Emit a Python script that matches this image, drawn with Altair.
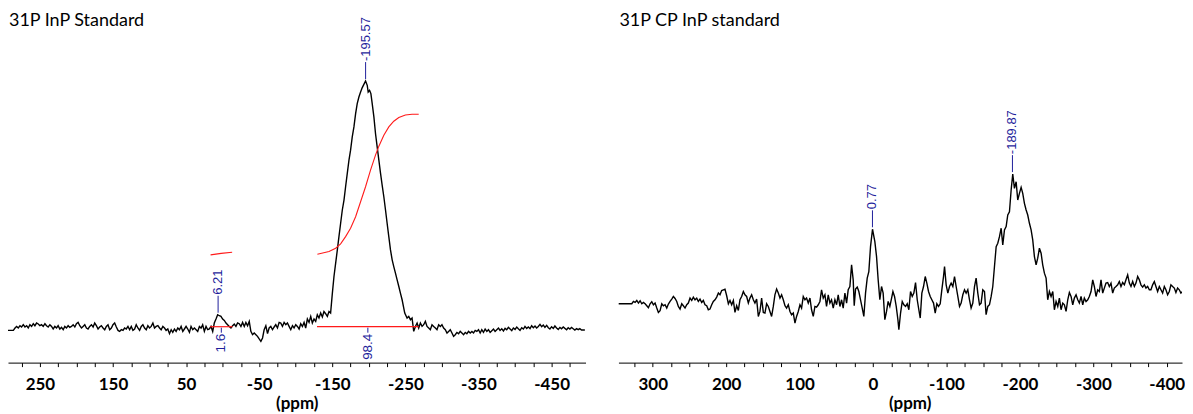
import altair as alt
import pandas as pd

LEFT_TITLE = "31P InP Standard"
RIGHT_TITLE = "31P CP InP standard"
AXIS_TITLE = "(ppm)"

# (ppm, intensity in arbitrary units)
left_spectrum = [
    (295.4, -3.7), (286.3, -3.7), (284.0, -1.3), (281.8, 0.3), (279.5, -1.3), (277.2, 1.0), (275.0, -0.3),
    (272.7, 2.0), (270.4, -0.3), (268.1, 1.0), (265.9, -1.3), (263.6, 2.0), (261.3, 0.3), (259.0, 3.0),
    (256.8, 1.0), (254.5, 3.7), (252.2, 2.7), (250.0, 1.0), (247.7, 2.0), (245.4, 0.3), (243.1, 3.0),
    (240.9, 1.0), (238.6, -0.3), (236.3, 2.0), (234.0, 0.3), (231.8, -2.3), (229.5, 0.3), (227.2, -1.3),
    (225.0, 1.0), (222.7, -2.3), (220.4, -0.7), (218.1, -3.0), (215.9, 0.3), (213.6, -1.3), (211.3, 1.0),
    (209.1, -0.7), (206.8, 0.3), (204.5, 2.0), (202.2, -0.3), (200.0, 3.0), (197.7, 4.3), (195.4, 1.0),
    (193.1, -1.3), (190.9, 0.3), (188.6, 2.0), (186.3, -1.3), (184.1, -2.3), (181.8, 0.3), (179.5, 2.0),
    (177.2, -0.3), (175.0, 3.7), (172.7, 1.0), (170.4, -2.3), (168.2, -0.3), (165.9, 1.0), (163.6, -1.3),
    (161.3, -3.0), (159.1, 0.3), (156.8, 2.0), (154.5, -3.0), (152.2, -1.3), (150.0, 2.0), (147.7, 3.7),
    (145.4, -0.3), (143.1, -3.7), (140.9, -4.7), (138.6, -3.0), (136.3, -3.7), (134.1, -1.3), (131.8, -2.3),
    (129.5, 0.3), (127.2, -3.0), (125.0, 0.3), (122.7, -3.7), (120.4, -2.3), (118.2, 2.0), (115.9, -1.3),
    (113.6, -3.7), (111.3, 0.3), (109.1, 2.0), (106.8, -1.3), (104.5, -3.0), (102.3, 1.0), (100.0, -1.3),
    (97.7, 0.3), (95.4, 3.7), (93.2, -1.3), (90.9, 0.3), (88.6, 1.0), (86.3, -1.3), (84.1, -3.0),
    (81.8, 0.3), (79.5, -1.3), (77.3, -3.7), (75.0, -2.3), (72.7, -7.0), (70.4, -3.0), (68.2, -5.7),
    (65.9, -2.3), (63.6, -4.7), (61.3, -1.3), (59.1, -3.0), (56.8, 0.3), (54.5, -4.7), (52.3, -2.3),
    (50.0, 0.3), (47.7, -2.3), (45.4, -5.7), (43.2, 0.3), (40.9, -3.0), (38.6, -1.3), (36.3, -3.0),
    (34.1, -4.7), (31.8, 0.3), (29.5, -1.3), (27.3, 2.0), (25.0, -4.7), (22.7, 0.3), (20.4, -3.0),
    (18.2, -2.3), (15.9, 0.3), (13.6, -4.7), (11.4, 3.7), (9.1, 7.7), (6.8, 12.0), (4.5, 11.0),
    (2.3, 10.3), (0.0, 7.7), (-2.3, 6.3), (-4.6, 3.7), (-6.8, 2.0), (-9.1, 0.3), (-11.4, -1.3),
    (-13.7, 1.0), (-15.9, 2.7), (-18.2, 0.3), (-20.5, 3.7), (-22.7, 3.0), (-25.0, 0.3), (-27.3, 4.3),
    (-29.6, 0.3), (-31.8, 4.3), (-34.1, 1.0), (-36.4, 5.3), (-38.6, -4.7), (-40.9, -8.0), (-43.2, -6.3),
    (-45.5, -8.0), (-47.7, -9.7), (-50.0, -12.3), (-52.3, -14.7), (-54.6, -11.3), (-56.8, -3.0), (-59.1, 1.0),
    (-61.4, -7.0), (-63.6, -1.3), (-65.9, 0.3), (-68.2, -3.0), (-70.5, -0.3), (-72.7, 2.0), (-75.0, -1.3),
    (-77.3, 4.3), (-79.5, 3.7), (-81.8, 0.3), (-84.1, 4.3), (-86.4, 2.0), (-88.6, 3.7), (-90.9, 0.3),
    (-93.2, -3.0), (-95.5, 1.0), (-97.7, -1.3), (-100.0, 2.0), (-102.3, 0.3), (-104.6, -2.3), (-106.8, 3.0),
    (-109.1, 0.3), (-111.4, 4.3), (-113.6, -1.3), (-115.9, 7.7), (-118.2, 4.3), (-120.5, 10.3), (-122.7, 3.7),
    (-125.0, 7.7), (-127.3, 5.3), (-129.5, 12.0), (-131.8, 8.7), (-134.1, 13.7), (-136.4, 9.7), (-138.6, 15.3),
    (-140.9, 13.0), (-143.2, 10.3), (-145.5, 15.3), (-147.7, 13.7),
    (-150.1, 33.7), (-152.3, 50.3), (-154.6, 63.7), (-156.9, 77.0), (-159.1, 90.3), (-161.4, 103.7),
    (-163.7, 117.0), (-166.0, 127.0), (-168.2, 140.3), (-170.5, 153.7), (-172.8, 167.0), (-175.0, 177.0),
    (-177.3, 190.3), (-179.6, 200.3), (-181.9, 213.7), (-184.1, 223.7), (-186.4, 230.3), (-188.7, 235.3),
    (-191.0, 239.7), (-193.2, 243.0), (-195.5, 246.3), (-197.8, 242.0), (-199.1, 235.3), (-201.0, 237.0),
    (-202.8, 233.7), (-204.6, 223.7), (-206.9, 210.3), (-209.1, 193.7), (-211.4, 180.3), (-213.7, 167.0),
    (-216.0, 153.7), (-218.2, 142.0), (-220.5, 130.3), (-222.8, 117.0), (-225.0, 103.7), (-227.3, 90.3),
    (-229.6, 77.0), (-231.9, 67.0), (-234.1, 60.3), (-236.4, 53.7), (-238.7, 47.0), (-241.0, 40.3),
    (-243.2, 33.7), (-245.5, 27.0), (-249.1, 13.7), (-252.3, 8.7), (-254.6, 10.3), (-256.9, 7.0),
    (-259.1, 8.7), (-261.4, -4.7), (-263.7, 0.3), (-266.0, 3.7), (-268.2, -1.3), (-270.5, 3.7),
    (-272.8, 0.3), (-275.0, 2.0), (-277.3, 5.3), (-279.6, 0.3), (-281.9, -1.3), (-284.1, -3.0),
    (-286.4, 2.0), (-288.7, 0.3), (-291.0, -1.3), (-293.2, -3.0), (-295.5, 2.0), (-297.8, 0.3),
    (-300.0, 2.0), (-302.3, -1.3), (-304.6, -3.0), (-306.9, -6.3), (-309.1, -4.7), (-311.4, -3.0),
    (-313.7, -6.3), (-315.9, -9.7), (-318.2, -8.0), (-320.5, -5.7), (-322.8, -7.0), (-325.0, -4.7),
    (-327.3, -6.3), (-329.6, -8.0), (-331.9, -5.7), (-334.1, -7.0), (-336.4, -4.7), (-338.7, -6.3),
    (-341.0, -4.7), (-343.2, -6.3), (-345.5, -3.7), (-347.7, -4.7), (-350.0, -3.0),
    (-352.3, -6.3), (-354.5, -3.0), (-356.8, -5.7), (-359.1, -2.3), (-361.4, -4.7), (-363.6, -3.0),
    (-365.9, -5.7), (-368.2, -4.0), (-370.5, -2.3), (-372.7, -4.7), (-375.0, -3.0), (-377.3, -1.3),
    (-379.5, -3.7), (-381.8, -2.0), (-384.1, -4.3), (-386.4, -1.7), (-388.6, -3.0), (-390.9, -0.7),
    (-393.2, -2.3), (-395.5, -4.0), (-397.7, -1.3), (-400.0, -2.7), (-402.3, -0.3), (-404.5, -2.0),
    (-406.8, -3.7), (-409.1, -1.0), (-411.4, -2.3), (-413.6, 0.3), (-415.9, -1.7), (-418.2, -0.3),
    (-420.5, -2.0), (-422.7, 1.0), (-425.0, -1.0), (-427.3, 0.7), (-429.5, -1.3), (-431.8, 0.3),
    (-434.1, 2.3), (-436.4, 0.0), (-438.6, 1.7), (-440.9, -0.7), (-443.2, 1.3), (-445.5, -1.0),
    (-447.7, -2.3), (-450.0, 0.0), (-452.3, -1.7), (-454.5, 0.7), (-456.8, -1.3), (-459.1, -2.7),
    (-461.4, -0.7), (-463.6, -2.0), (-465.9, -0.3), (-468.2, -1.7), (-470.5, -3.0), (-472.7, -1.0),
    (-475.0, -2.3), (-477.3, -0.7), (-479.5, -2.0), (-481.8, -3.3), (-484.1, -2.0), (-486.4, -3.0),
    (-488.6, -2.0), (-490.9, -3.3), (-493.2, -3.3), (-495.5, -3.3),
]

right_spectrum = [
    (346.7, 0.0), (328.5, 0.0), (326.3, 2.3), (324.0, 1.3), (321.7, 3.3), (319.5, 0.7), (317.2, 3.0),
    (314.9, 0.0), (312.7, 1.3), (310.4, 0.0), (308.1, -2.0), (305.9, -4.0), (303.6, 0.0), (301.3, 2.0),
    (299.1, -1.0), (296.8, 0.7), (294.5, -4.3), (292.3, -8.7), (290.0, -7.0), (287.7, 0.0), (285.5, -2.0),
    (283.2, -1.0), (280.9, -4.3), (278.7, -0.3), (276.4, 2.3), (274.1, 4.7), (271.9, 7.3), (269.6, 5.3),
    (267.3, 2.3), (265.1, -2.7), (262.8, -5.3), (260.5, 0.0), (258.3, -2.0), (256.0, -4.3), (253.7, -1.0),
    (251.5, 0.7), (249.2, 5.7), (246.9, 3.3), (244.7, 6.7), (242.4, 4.0), (240.1, 5.7), (237.9, 2.3),
    (235.6, 4.7), (233.3, 1.3), (231.1, 3.3), (228.8, -1.0), (226.5, -2.0), (224.3, -6.0), (222.0, -5.3),
    (219.7, -1.0), (217.5, 2.3), (215.2, 4.0), (212.9, 6.7), (210.6, 10.7), (208.4, 9.0), (206.1, 13.3),
    (203.8, 14.0), (201.6, 14.7), (199.3, 8.0), (197.0, 0.0), (194.8, 3.3), (192.5, -1.0), (190.2, 3.3),
    (188.0, -8.7), (185.7, -2.0), (183.4, -6.7), (181.2, 4.0), (178.9, 7.3), (176.6, 12.3), (174.4, 9.0),
    (172.1, 7.3), (169.8, 0.7), (167.6, 5.7), (165.3, 9.0), (163.0, 4.0), (160.8, 0.7), (158.5, 4.7),
    (156.2, -12.7), (154.0, -7.7), (151.7, 5.7), (149.4, -8.7), (147.2, -9.3), (144.9, 0.0), (142.6, -2.7),
    (140.4, -7.7), (138.1, -12.7), (135.8, -2.7), (133.6, 9.0), (131.3, 14.7), (129.0, 10.7), (126.7, 5.7),
    (124.5, 9.0), (122.2, 4.0), (119.9, -2.0), (117.7, -4.3), (115.4, -1.0), (113.1, -7.7), (110.9, -11.0),
    (108.6, -9.3), (106.3, -19.3), (104.1, -12.7), (101.8, -7.7), (99.5, -1.0), (97.3, -4.3), (95.0, 7.3),
    (92.7, 4.0), (90.5, 5.7), (88.2, 0.7), (85.9, 5.7), (83.7, -6.0), (81.4, -12.7), (79.1, -2.7),
    (76.9, -3.3), (74.6, -1.0), (72.3, 2.3), (70.1, 14.0), (67.8, 5.7), (65.5, 9.0), (63.3, -2.7),
    (61.0, 9.0), (58.7, 0.7), (56.5, 4.0), (54.2, -4.3), (51.9, 4.0), (49.6, -1.0), (47.4, 9.0),
    (45.1, -2.7), (42.8, 4.0), (40.6, -4.3), (38.3, 10.7), (36.0, 0.7), (33.8, 14.0), (31.5, 17.3),
    (29.2, 39.0), (27.0, 24.0), (25.6, -2.0), (23.8, 14.7), (21.5, 16.7), (19.3, 12.3), (17.0, 4.0),
    (14.7, -4.3), (12.5, -12.7), (10.2, 10.7), (7.9, 25.7), (5.7, 32.3), (3.4, 57.3), (0.7, 74.7),
    (-2.5, 62.3), (-4.8, 47.3), (-7.0, 24.0), (-9.3, 4.0), (-11.6, 17.3), (-13.8, 10.7), (-16.1, -16.0),
    (-18.4, -7.7), (-20.6, 2.3), (-22.9, -2.7),
    (-24.8, 4.0), (-27.1, 12.3), (-29.3, 7.3), (-31.6, -2.7), (-33.9, -16.0), (-35.2, -26.0), (-37.5, -9.3),
    (-39.8, 2.3), (-42.0, -1.0), (-44.3, -2.7), (-46.6, 0.0), (-48.8, -6.0), (-51.1, 12.3), (-53.4, 7.3),
    (-55.6, 10.7), (-57.9, 21.3), (-60.2, 4.0), (-62.4, -6.0), (-64.3, -14.3), (-66.5, 10.7), (-68.8, 17.3),
    (-71.1, 27.3), (-73.3, 20.7), (-75.6, 12.3), (-77.9, 7.3), (-80.1, 4.0), (-82.4, 0.7), (-84.7, -9.3),
    (-86.9, 0.0), (-89.2, -2.7), (-91.5, 0.0), (-93.7, 14.0), (-96.0, 27.3), (-97.4, 37.3), (-99.6, 19.0),
    (-101.9, 10.7), (-104.2, 17.3), (-106.4, 20.7), (-108.7, 17.3), (-111.0, 27.3), (-113.2, 17.3),
    (-115.5, 7.3), (-117.8, -2.7), (-120.0, 0.7), (-122.3, 9.0), (-124.6, 14.0), (-126.8, 10.7),
    (-129.1, 14.0), (-131.4, 4.0), (-133.6, -4.3), (-135.9, 0.7), (-138.2, 17.3), (-140.4, 25.7),
    (-142.7, 10.7), (-145.0, -1.0), (-147.2, 0.7), (-149.5, 14.0), (-151.8, 12.3), (-154.0, -11.0),
    (-156.3, -2.7), (-158.6, -1.0), (-160.9, 7.3), (-163.1, 17.3), (-165.4, 37.3), (-167.7, 57.3),
    (-169.9, 60.7), (-172.2, 67.3), (-174.5, 75.7), (-176.7, 59.0), (-179.0, 74.0), (-181.3, 77.3),
    (-183.5, 89.0), (-185.8, 92.3), (-188.1, 114.0), (-190.3, 130.0), (-192.6, 115.7), (-194.9, 122.3),
    (-197.1, 104.0), (-199.4, 110.7), (-201.7, 116.7), (-203.9, 110.7), (-206.2, 100.7), (-208.5, 94.0),
    (-210.7, 89.0), (-213.0, 80.7), (-215.3, 74.0), (-217.5, 64.0), (-219.8, 47.3), (-222.1, 39.0),
    (-224.3, 45.7), (-226.6, 55.7), (-228.9, 50.7), (-231.1, 39.0), (-233.4, 30.7), (-235.7, 25.7),
    (-237.9, 4.0), (-240.2, 12.3), (-242.5, 7.3), (-244.8, 12.3), (-247.0, -6.0), (-249.3, 2.3),
    (-251.6, -2.7), (-253.8, 5.7), (-256.1, -6.0), (-258.4, 0.7), (-260.6, -1.0), (-262.9, -7.7),
    (-265.2, 4.0), (-267.4, 11.3), (-269.7, 7.3), (-272.0, -1.0), (-274.2, 5.7), (-276.5, 9.0),
    (-278.8, 4.0), (-281.0, 0.7), (-283.3, 7.3), (-285.6, -1.0), (-287.8, 5.7), (-290.1, 2.3),
    (-292.4, 4.0), (-294.6, 7.3), (-296.9, 12.3), (-299.2, 24.0), (-301.4, 17.3), (-303.7, 7.3),
    (-306.0, 14.0), (-308.2, 12.3), (-310.5, 24.0), (-312.8, 10.7), (-315.0, 15.7), (-317.3, 20.7),
    (-319.6, 21.3), (-321.8, 17.3), (-324.1, 20.7), (-326.4, 10.7), (-328.6, 15.7), (-330.9, 17.3),
    (-333.2, 19.0), (-335.4, 22.3), (-337.7, 17.3), (-340.0, 21.3), (-342.3, 19.0), (-344.5, 24.0),
    (-346.8, 29.0), (-349.1, 20.7), (-351.3, 17.3), (-353.6, 22.3), (-355.9, 17.3), (-358.1, 20.7),
    (-360.4, 27.3), (-362.7, 24.0), (-364.9, 19.0), (-367.2, 16.7), (-369.5, 19.0), (-371.7, 15.7),
    (-374.0, 17.3), (-376.3, 14.0), (-378.5, 14.0), (-380.8, 19.0), (-383.1, 22.3), (-385.3, 17.3),
    (-387.6, 12.3), (-389.9, 17.3), (-392.1, 14.0), (-394.4, 10.7), (-396.7, 17.3), (-398.9, 14.0),
    (-401.2, 9.0), (-403.5, 12.3), (-405.7, 19.0), (-408.0, 17.3), (-410.3, 15.7), (-412.5, 11.3),
    (-414.8, 15.7), (-417.1, 14.0), (-419.3, 10.7), (-421.6, 12.3), (-423.9, 10.0),
]

# peak picking labels
left_peak_ppm = [-195.57, 6.21]
left_peak_height = [246.3, 12.0]
left_peak_text = ["-195.57", "6.21"]
right_peak_ppm = [0.77, -189.87]
right_peak_height = [74.7, 130.0]
right_peak_text = ["0.77", "-189.87"]

# integrals (left spectrum)
integral_start = [17.2, -129.1]
integral_end = [-13.6, -268.2]
integral_base = [0.0, 0.0]
integral_value = ["1.6", "98.4"]
integral_curve_small = [(16.5, 72.0), (2.0, 73.5), (-13.0, 74.7)]
integral_curve_main = [
    (-129.6, 72.7), (-145.5, 75.3), (-154.6, 78.7), (-161.4, 83.0), (-168.2, 90.3), (-175.0, 98.7),
    (-181.9, 110.3), (-188.7, 125.3), (-195.5, 140.3), (-202.3, 157.0), (-209.1, 172.0), (-213.7, 181.0),
    (-220.5, 192.0), (-227.3, 200.3), (-234.1, 206.0), (-241.0, 209.7), (-250.0, 212.3), (-259.1, 213.0),
    (-268.2, 213.0),
]

# axes
left_ticks = [275, 250, 225, 200, 175, 150, 125, 100, 75, 50, 25, 0, -25, -50, -75, -100, -125, -150,
              -175, -200, -225, -250, -275, -300, -325, -350, -375, -400, -425, -450, -475]
left_labels = [250, 150, 50, -50, -150, -250, -350, -450]
right_ticks = [325, 300, 275, 250, 225, 200, 175, 150, 125, 100, 75, 50, 25, 0, -25, -50, -75, -100,
               -125, -150, -175, -200, -225, -250, -275, -300, -325, -350, -375, -400]
right_labels = [300, 200, 100, 0, -100, -200, -300, -400]
left_x_domain = [293.6, -496.4]
right_x_domain = [346.7, -420.8]
left_y_domain = [-36, 319]
right_y_domain = [-59, 296]

BLUE = "#1f1f9c"
RED = "#ff1a1a"


def make_axis(ticks, labels, title_x=None):
    expr = "indexof([" + ",".join(str(v) for v in labels) + "], datum.value) >= 0 ? '' + datum.value : ''"
    kw = dict(
        values=ticks, labelExpr=expr, title=AXIS_TITLE, grid=False,
        domainColor="black", domainWidth=1, tickColor="black", tickSize=4, tickWidth=1,
        labelFont="Lato", labelFontSize=17, labelFontWeight="bold", labelColor="black",
        labelPadding=10, labelOverlap=False, labelFlush=False,
        titleFont="Lato", titleFontSize=17, titleFontWeight="bold", titleColor="black",
        titlePadding=3,
    )
    if title_x is not None:
        kw["titleX"] = title_x
    return alt.Axis(**kw)


def panel(spectrum, peak_ppm, peak_h, peak_txt, xdom, ydom, ticks, labels, title, width,
          title_x=None, integrals=None):
    xs = alt.Scale(domain=xdom, nice=False, zero=False)
    ys = alt.Scale(domain=ydom, nice=False, zero=False)
    axis = make_axis(ticks, labels, title_x)
    X = alt.X("ppm:Q", scale=xs, axis=axis)
    Y = alt.Y("intensity:Q", scale=ys, axis=None)

    sdf = pd.DataFrame(spectrum, columns=["ppm", "intensity"])
    line = alt.Chart(sdf).mark_line(color="black", strokeWidth=1.4, clip=True).encode(x=X, y=Y)

    pdf = pd.DataFrame({"ppm": peak_ppm, "intensity": peak_h, "label": peak_txt})
    leader = alt.Chart(pdf).mark_rule(color=BLUE, strokeWidth=1, yOffset=-2, y2Offset=-19).encode(
        x=X, y=Y, y2=alt.Y2("intensity:Q"))
    ptext = alt.Chart(pdf).mark_text(
        angle=270, align="left", baseline="middle", dx=20, font="Liberation Sans",
        fontSize=13, color=BLUE).encode(x=X, y=Y, text="label:N")

    tdf = pd.DataFrame({"t": [title]})
    ttl = alt.Chart(tdf).mark_text(align="left", baseline="top", font="Lato", fontSize=18,
                                   color="black").encode(x=alt.value(1), y=alt.value(4), text="t:N")

    layers = [line]
    if integrals is not None:
        idf, curves = integrals
        base = alt.Chart(idf).mark_rule(color=RED, strokeWidth=1.2).encode(
            x=X, x2=alt.X2("end:Q"), y=alt.Y("base:Q", scale=ys, axis=None))
        mid = alt.Chart(idf).transform_calculate(mid="(datum.ppm + datum.end) / 2")
        itick = mid.mark_rule(color=BLUE, strokeWidth=1, yOffset=1, y2Offset=6).encode(
            x=alt.X("mid:Q", scale=xs, axis=axis), y=alt.Y("base:Q", scale=ys, axis=None),
            y2=alt.Y2("base:Q"))
        itext = mid.mark_text(angle=270, align="right", baseline="middle", dx=-7,
                              font="Liberation Sans", fontSize=13.5, color=BLUE).encode(
            x=alt.X("mid:Q", scale=xs, axis=axis), y=alt.Y("base:Q", scale=ys, axis=None),
            text="value:N")
        cl = []
        for cdf in curves:
            cl.append(alt.Chart(cdf).mark_line(color=RED, strokeWidth=1.1).encode(x=X, y=Y))
        layers += [base] + cl + [itick, itext]
    layers += [leader, ptext, ttl]
    return alt.layer(*layers).properties(width=width, height=355)


idf = pd.DataFrame({"ppm": integral_start, "end": integral_end, "base": integral_base,
                    "value": integral_value})
curves = [pd.DataFrame(integral_curve_small, columns=["ppm", "intensity"]),
          pd.DataFrame(integral_curve_main, columns=["ppm", "intensity"])]

left = panel(left_spectrum, left_peak_ppm, left_peak_height, left_peak_text, left_x_domain,
             left_y_domain, left_ticks, left_labels, LEFT_TITLE, 579, integrals=(idf, curves))
right = panel(right_spectrum, right_peak_ppm, right_peak_height, right_peak_text, right_x_domain,
              right_y_domain, right_ticks, right_labels, RIGHT_TITLE, 565, title_x=292)

chart = alt.hconcat(left, right, spacing=33, bounds="flush",
                    padding={"left": 0, "top": 0, "right": 0, "bottom": 0}).configure_view(stroke=None)

chart.save("out.html", embed_options={"renderer": "svg", "actions": False})
